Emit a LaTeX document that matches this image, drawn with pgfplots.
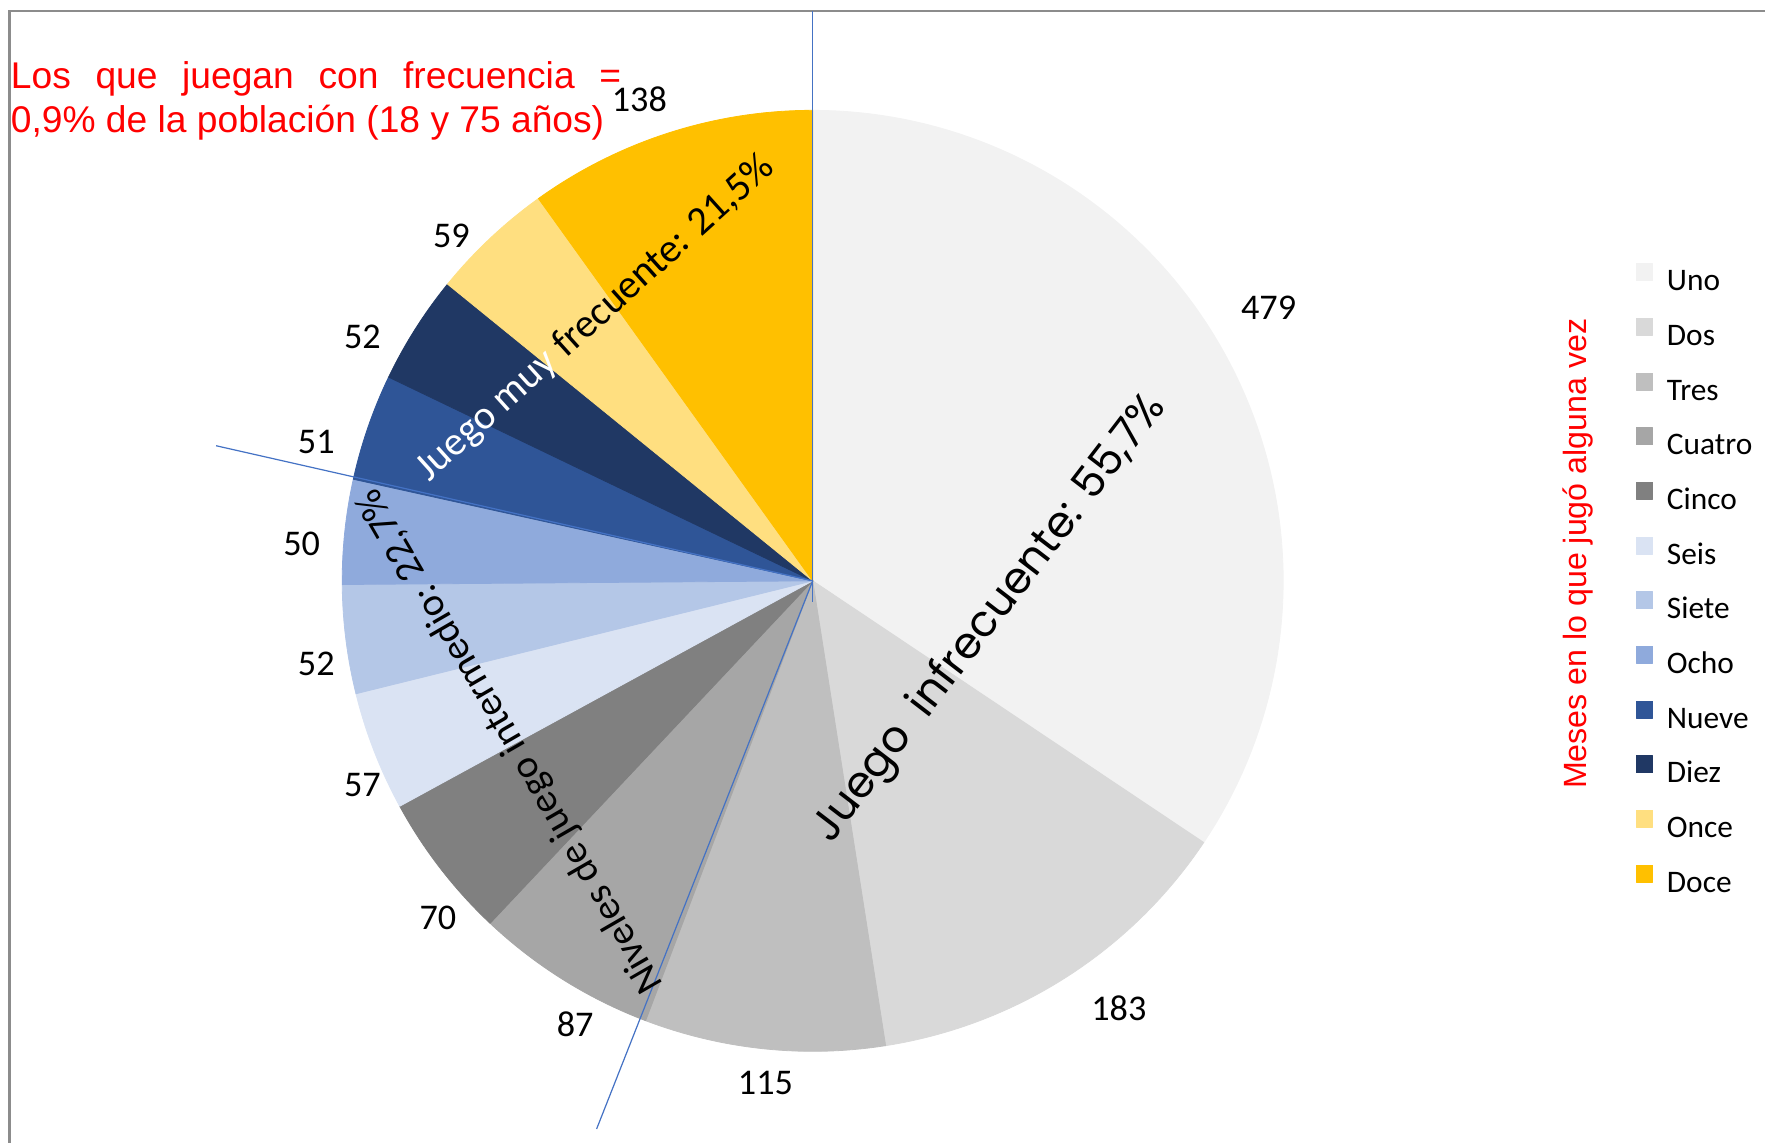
\documentclass[border=0pt]{standalone}
\usepackage{fontspec}
\usepackage{graphicx}
\usepackage{pgfplots}
\usepackage{pgfplotstable}
\pgfplotsset{compat=1.18}
\setmainfont{Liberation Sans}
\newfontfamily\calfont{Carlito}
\newfontfamily\popfont{Poppins}

\definecolor{slice0}{HTML}{F2F2F2}
\definecolor{slice1}{HTML}{D9D9D9}
\definecolor{slice2}{HTML}{BFBFBF}
\definecolor{slice3}{HTML}{A6A6A6}
\definecolor{slice4}{HTML}{808080}
\definecolor{slice5}{HTML}{DAE3F3}
\definecolor{slice6}{HTML}{B4C7E7}
\definecolor{slice7}{HTML}{8FAADC}
\definecolor{slice8}{HTML}{2F5597}
\definecolor{slice9}{HTML}{203864}
\definecolor{slice10}{HTML}{FFDF80}
\definecolor{slice11}{HTML}{FFC000}
\definecolor{sepblue}{HTML}{4472C4}
\definecolor{framegray}{HTML}{8C8C8C}

\pgfplotstableread{
name value lx ly
Uno 479 1127 742
Dos 183 994 119
Tres 115 680 53
Cuatro 87 511 105
Cinco 70 389 200
Seis 57 322 318
Siete 52 281 425
Ocho 50 268 532
Nueve 51 281 622
Diez 52 322 716
Once 59 401 805
Doce 138 568 927
}\piedata
\pgfplotstablecreatecol[create col/expr accum={\pgfmathaccuma+\thisrow{value}}{0}]{cum}\piedata

\begin{document}
\begin{tikzpicture}
\pgfplotstablegetelem{11}{cum}\of\piedata
\edef\total{\pgfplotsretval}
\begin{axis}[
  scale only axis, width=439.04pt, height=284.2pt,
  xmin=0, xmax=1568, ymin=0, ymax=1015,
  hide axis, clip=false,
  legend style={at={(0.92666,0.7695)}, anchor=north west, draw=none, fill=none,
    inner sep=0pt, outer sep=0pt, row sep=5.2pt, column sep=3.4pt,
    font=\calfont\fontsize{7.8}{9}\selectfont,
    nodes={inner sep=0pt, text height=6pt, text depth=1.6pt}},
  legend cell align=left,
  legend image code/.code={\fill[#1] (0pt,0.3pt) rectangle (4.2pt,4.5pt);},
]
\pgfplotsinvokeforeach{0,...,11}{%
  \pgfplotstablegetelem{#1}{cum}\of\piedata
  \pgfmathsetmacro\angE{90-\pgfplotsretval/\total*360}%
  \pgfplotstablegetelem{#1}{value}\of\piedata
  \pgfmathsetmacro\angS{\angE+\pgfplotsretval/\total*360}%
  \edef\doslice{\noexpand\addplot[fill=slice#1, draw=slice#1, line width=0.2pt, line join=round, domain=\angE:\angS, samples=90] ({722+418*cos(x)},{499+418*sin(x)}) -- (722,499) -- cycle;}%
  \doslice
}
\legend{Uno,Dos,Tres,Cuatro,Cinco,Seis,Siete,Ocho,Nueve,Diez,Once,Doce}

% frame
\addplot[forget plot, framegray, line width=0.55pt] coordinates {(8.5,0) (8.5,1005.2) (1568,1005.2)};
% separators
\addplot[forget plot, sepblue, line width=0.3pt] coordinates {(722,1005) (722,480)};
\addplot[forget plot, sepblue, line width=0.3pt] coordinates {(192,619) (722,499)};
\addplot[forget plot, sepblue, line width=0.3pt] coordinates {(722,499) (530,12)};

% value labels
\addplot[forget plot, only marks, mark=none, nodes near coords, point meta=explicit symbolic,
  nodes near coords style={font=\calfont\fontsize{9}{10}\selectfont, anchor=center, inner sep=0pt}]
  table[x=lx, y=ly, meta=value] {\piedata};

\node[anchor=base west, inner sep=0pt, text=red, font=\fontsize{9.25}{11}\selectfont] at (axis cs:9,936) {\makebox[151.8pt][s]{Los que juegan con frecuencia =}};
\node[anchor=base west, inner sep=0pt, text=red, font=\fontsize{9.25}{11}\selectfont] at (axis cs:9,897) {0,9\% de la población (18 y 75 años)};

\node[rotate=52.5, inner sep=0pt] at (axis cs:880,465) {\resizebox{137pt}{!}{\popfont Juego\hspace{0.25em} infrecuente: 55,7\%}};
\node[rotate=42, inner sep=0pt] at (axis cs:529,732) {\resizebox{116pt}{!}{\calfont\textcolor{white}{Juego muy} frecuente: 21,5\%}};
\node[rotate=120, inner sep=0pt] at (axis cs:454,357) {\resizebox{143pt}{!}{\calfont Niveles de juego intermedio: 22,7\%}};

\node[rotate=90, text=red, font=\fontsize{8}{9}\selectfont, inner sep=0pt] at (axis cs:1402,523) {Meses en lo que jugó alguna vez};
\end{axis}
\pgfresetboundingbox
\path (0,0) rectangle (439.04pt,284.2pt);
\end{tikzpicture}
\end{document}
